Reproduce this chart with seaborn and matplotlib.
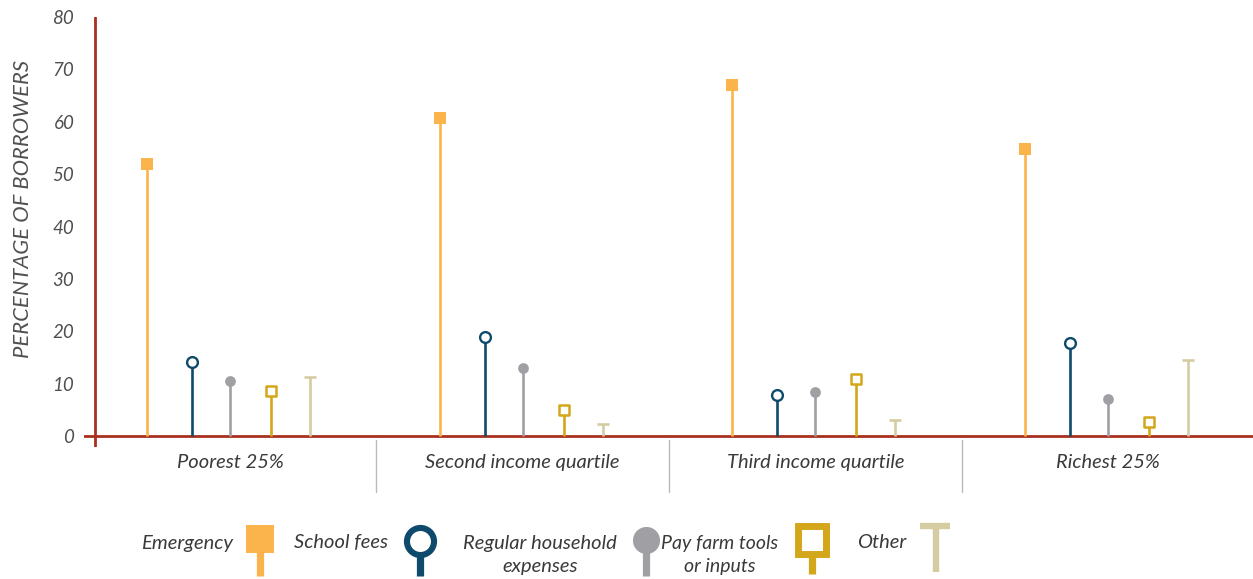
import matplotlib
matplotlib.use("Agg")
import matplotlib.pyplot as plt
import seaborn as sns
import pandas as pd
import numpy as np

# data
groups = ["Poorest 25%", "Second income quartile", "Third income quartile", "Richest 25%"]
categories = ["Emergency", "School fees", "Regular household\nexpenses",
              "Pay farm tools\nor inputs", "Other"]
emergency = [52, 60.7, 67, 54.8]
school_fees = [14.1, 18.9, 7.8, 17.7]
household = [10.5, 13, 8.4, 7.1]
farm_tools = [8.6, 5, 10.9, 2.7]
other = [11.3, 2.3, 3, 14.5]
y_ticks = [0, 10, 20, 30, 40, 50, 60, 70, 80]

series = [emergency, school_fees, household, farm_tools, other]
colors = ["#FBB44C", "#0E4A6C", "#A0A0A4", "#D4A619", "#D6CCA2"]
offsets = [-0.284, -0.13, 0.0, 0.14, 0.273]
AXIS_RED = "#A8301E"
FONT = "Lato"

rows = []
for cat, vals in zip(categories, series):
    for gi, v in enumerate(vals):
        rows.append({"group": gi, "category": cat, "value": v})
df = pd.DataFrame(rows)
df["x"] = df["group"] + df["category"].map(dict(zip(categories, offsets)))

sns.set_theme(style="white")
plt.rcParams["font.family"] = [FONT, "DejaVu Sans"]

fig = plt.figure(figsize=(12.53, 5.79), dpi=100)
ax = fig.add_axes([84 / 1253, (579 - 447) / 579, 1169 / 1253, 430 / 579])
ax.set_xlim(-0.499, 3.495)
ax.set_ylim(-2.1, 80)
for s in ax.spines.values():
    s.set_visible(False)

# stems
for cat, col in zip(categories, colors):
    sub = df[df["category"] == cat]
    ax.vlines(sub["x"], 0, sub["value"], color=col, lw=1.9, zorder=2)

# heads
marker_kw = {
    categories[0]: dict(marker="s", s=64, color=colors[0], linewidth=0),
    categories[1]: dict(marker="o", s=60, facecolor="white", edgecolor=colors[1], linewidth=1.7),
    categories[2]: dict(marker="o", s=60, color=colors[2], linewidth=0),
    categories[3]: dict(marker="s", s=58, facecolor="white", edgecolor=colors[3], linewidth=1.8),
}
for cat, kw in marker_kw.items():
    sub = df[df["category"] == cat]
    sns.scatterplot(data=sub, x="x", y="value", ax=ax, zorder=3, legend=False, **kw)
sub = df[df["category"] == categories[4]]
ax.plot(sub["x"], sub["value"], ls="none", marker="_", ms=9, mew=1.9,
        color=colors[4], zorder=3)

# axis lines
ax.axhline(0, color=AXIS_RED, lw=2, zorder=1)
ax.axvline(-0.461, color=AXIS_RED, lw=2, zorder=1)

ax.set_yticks(y_ticks)
ax.set_yticklabels([str(t) for t in y_ticks], fontsize=13.5, color="#505050",
                   fontstyle="italic")
ax.tick_params(axis="y", length=0, pad=7)
ax.set_xticks([])
ax.set_xlabel("")
ax.set_ylabel("PERCENTAGE OF BORROWERS", fontsize=15.8, color="#505050",
              fontstyle="italic")
ax.yaxis.set_label_coords(-0.044, 0.553)

# group labels and separators
for gi, g in enumerate(groups):
    ax.text(gi, -5.1, g, ha="center", va="center", fontsize=14.5,
            fontstyle="italic", color="#3a3a3a")
for sep in [0.5, 1.5, 2.5]:
    ax.plot([sep, sep], [-0.8, -10.7], color="#BBBBBB", lw=1, clip_on=False)

# legend drawn in pixel space
lg = fig.add_axes([0, 0, 1, 1], zorder=-1)
lg.set_xlim(0, 1253)
lg.set_ylim(579, 0)
lg.axis("off")
txt = dict(fontsize=14.5, fontstyle="italic", color="#3a3a3a", va="center")
lg.text(233, 543, categories[0], ha="right", **txt)
lg.text(388, 543, categories[1], ha="right", **txt)
lg.text(540, 555, categories[2], ha="center", multialignment="center",
        linespacing=1.4, fontsize=14.5, fontstyle="italic", color="#3a3a3a", va="center")
lg.text(720, 555, categories[3], ha="center", multialignment="center",
        linespacing=1.4, fontsize=14, fontstyle="italic", color="#3a3a3a", va="center")
lg.text(906, 543, categories[4], ha="right", **txt)

# emergency glyph
lg.plot([260, 260], [545, 576], color=colors[0], lw=5.2, solid_capstyle="butt")
lg.plot([260], [539], marker="s", ms=20, color=colors[0], mew=0)
# school fees glyph
lg.plot([420, 420], [550, 576], color=colors[1], lw=5.2, solid_capstyle="butt")
lg.plot([420], [541], marker="o", ms=19.5, mfc="white", mec=colors[1], mew=4.4)
# household glyph
lg.plot([646, 646], [545, 576], color=colors[2], lw=5.2, solid_capstyle="butt")
lg.plot([646], [540], marker="o", ms=19.5, color=colors[2], mew=0)
# farm tools glyph
lg.plot([812, 812], [553, 574], color=colors[3], lw=5.2, solid_capstyle="butt")
lg.plot([812], [540], marker="s", ms=20, mfc="white", mec=colors[3], mew=5)
# other glyph
lg.plot([936, 936], [524, 572], color=colors[4], lw=4.6, solid_capstyle="butt")
lg.plot([920, 950], [526, 526], color=colors[4], lw=4.6, solid_capstyle="butt")

fig.savefig("out.png", dpi=100)
